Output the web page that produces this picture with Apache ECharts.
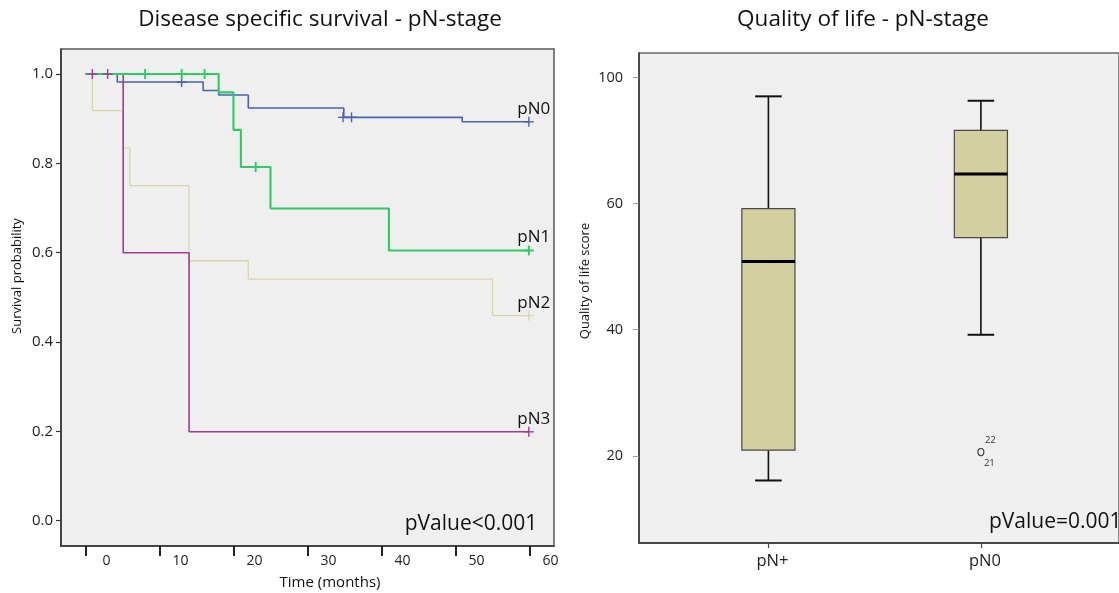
<!DOCTYPE html>
<html><head><meta charset="utf-8">
<script src="https://cdn.jsdelivr.net/npm/echarts@6/dist/echarts.min.js"></script>
<style>html,body{margin:0;padding:0;background:#fff}#c{width:1119px;height:593px}</style>
</head><body><div id="c"></div>
<script>
// ---------- data ----------
const kmTimeTicks = [0, 10, 20, 30, 40, 50, 60];
const kmProbTicks = [0, 0.2, 0.4, 0.6, 0.8, 1.0];
const groupNames = ['pN0', 'pN1', 'pN2', 'pN3'];
// Kaplan-Meier steps: [time (months), survival]
const pN0Curve = [[0, 1.0], [4.3, 0.982], [15.9, 0.963], [18.0, 0.953], [22.0, 0.924], [34.9, 0.903], [50.9, 0.893], [59.9, 0.893]];
const pN1Curve = [[0, 1.0], [18.0, 0.959], [20.0, 0.875], [21.0, 0.792], [25.0, 0.699], [41.0, 0.605], [59.9, 0.605]];
const pN2Curve = [[0, 1.0], [0.94, 0.918], [5.1, 0.834], [6.0, 0.750], [14.0, 0.582], [22.0, 0.541], [55.0, 0.459], [59.9, 0.459]];
const pN3Curve = [[0, 1.0], [5.1, 0.600], [14.0, 0.199], [59.9, 0.199]];
// censored observations
const pN0Censor = [[13.0, 0.982], [34.8, 0.903], [35.95, 0.903], [59.9, 0.893]];
const pN1Censor = [[8.06, 1.0], [13.0, 1.0], [16.1, 1.0], [23.0, 0.792], [59.9, 0.605]];
const pN2Censor = [[59.9, 0.459]];
const pN3Censor = [[0.94, 1.0], [3.0, 1.0], [59.9, 0.199]];
const kmPValue = 'pValue<0.001';

const qolCategories = ['pN+', 'pN0'];
const qolMin = [16.1, 39.2];
const qolQ1 = [20.9, 54.6];
const qolMedian = [50.8, 64.7];
const qolQ3 = [59.2, 71.6];
const qolMax = [77.0, 76.3];
const qolTickValues = [20, 40, 60, 80];
const qolTickLabels = ['20', '40', '60', '100'];
const qolOutlier = [2, 20.6];
const qolOutlierIds = ['22', '21'];
const qolPValue = 'pValue=0.001';

// ---------- styling ----------
const FONT = "'Open Sans', 'Noto Sans', sans-serif";
const colors = { pN0: '#4a62b4', pN1: '#2ecb62', pN2: '#d9d5a6', pN3: '#a3399c' };
const widths = { pN0: 1.6, pN1: 2.1, pN2: 1.3, pN3: 1.6 };

const curves = { pN0: pN0Curve, pN1: pN1Curve, pN2: pN2Curve, pN3: pN3Curve };
const censors = { pN0: pN0Censor, pN1: pN1Censor, pN2: pN2Censor, pN3: pN3Censor };

const chart = echarts.init(document.getElementById('c'), null, { renderer: 'canvas' });

const series = [];
const drawOrder = ['pN2', 'pN3', 'pN0', 'pN1'];
drawOrder.forEach(g => {
  series.push({
    type: 'line', name: g, xAxisIndex: 0, yAxisIndex: 0,
    data: curves[g], step: 'end', showSymbol: false, symbol: 'none',
    lineStyle: { color: colors[g], width: widths[g] }, silent: true, z: 3
  });
});
drawOrder.forEach(g => {
  series.push({
    type: 'custom', name: g + ' censored', xAxisIndex: 0, yAxisIndex: 0,
    data: censors[g], z: 4, silent: true,
    encode: { x: 0, y: 1 },
    renderItem: (params, api) => {
      const p = api.coord([api.value(0), api.value(1)]);
      const st = { stroke: colors[g], lineWidth: Math.max(1.2, widths[g] - 0.2) };
      return { type: 'group', children: [
        { type: 'line', shape: { x1: p[0], y1: p[1] - 5, x2: p[0], y2: p[1] + 5 }, style: st },
        { type: 'line', shape: { x1: p[0] - 5, y1: p[1], x2: p[0] + 5, y2: p[1] }, style: st }
      ]};
    }
  });
});
// end labels of curves
const endPoints = groupNames.map(g => curves[g][curves[g].length - 1]);
series.push({
  type: 'custom', name: 'curve labels', xAxisIndex: 0, yAxisIndex: 0, data: endPoints, z: 5, silent: true,
  encode: { x: 0, y: 1 },
  renderItem: (params, api) => {
    const p = api.coord([api.value(0), api.value(1)]);
    return { type: 'text', x: p[0] + 5, y: p[1] - 13,
      style: { text: groupNames[params.dataIndex], fontFamily: FONT, fontSize: 17, fill: '#111', align: 'center', verticalAlign: 'middle' } };
  }
});

// boxplot
const boxData = qolCategories.map((c, i) => [i + 1, qolMin[i], qolQ1[i], qolMedian[i], qolQ3[i], qolMax[i]]);
series.push({
  type: 'custom', name: 'QoL', xAxisIndex: 1, yAxisIndex: 1, data: boxData, z: 3, silent: true,
  encode: { x: 0, y: [1, 2, 3, 4, 5] },
  renderItem: (params, api) => {
    const x = api.value(0);
    const pMin = api.coord([x, api.value(1)]);
    const pQ1 = api.coord([x, api.value(2)]);
    const pMed = api.coord([x, api.value(3)]);
    const pQ3 = api.coord([x, api.value(4)]);
    const pMax = api.coord([x, api.value(5)]);
    const half = api.size([0.25, 0])[0] / 2;
    const cap = api.size([0.125, 0])[0] / 2;
    const cx = pMed[0];
    const ws = { stroke: '#111', lineWidth: 1.6 };
    return { type: 'group', children: [
      { type: 'line', shape: { x1: cx, y1: pMax[1], x2: cx, y2: pQ3[1] }, style: ws },
      { type: 'line', shape: { x1: cx, y1: pQ1[1], x2: cx, y2: pMin[1] }, style: ws },
      { type: 'line', shape: { x1: cx - cap, y1: pMax[1], x2: cx + cap, y2: pMax[1] }, style: { stroke: '#111', lineWidth: 2 } },
      { type: 'line', shape: { x1: cx - cap, y1: pMin[1], x2: cx + cap, y2: pMin[1] }, style: { stroke: '#111', lineWidth: 2 } },
      { type: 'rect', shape: { x: cx - half, y: pQ3[1], width: 2 * half, height: pQ1[1] - pQ3[1] },
        style: { fill: '#d3cf9f', stroke: '#4a4a4a', lineWidth: 1.2 } },
      { type: 'line', shape: { x1: cx - half, y1: pMed[1], x2: cx + half, y2: pMed[1] }, style: { stroke: '#000', lineWidth: 3 } }
    ]};
  }
});
// outlier
series.push({
  type: 'custom', name: 'outlier', xAxisIndex: 1, yAxisIndex: 1, data: [qolOutlier], z: 4, silent: true,
  encode: { x: 0, y: 1 },
  renderItem: (params, api) => {
    const p = api.coord([api.value(0), api.value(1)]);
    return { type: 'group', children: [
      { type: 'ellipse', shape: { cx: p[0], cy: p[1], rx: 3, ry: 3.6 }, style: { fill: 'none', stroke: '#333', lineWidth: 1.1 } },
      { type: 'text', x: p[0] + 4, y: p[1] - 12, style: { text: qolOutlierIds[0], fontFamily: FONT, fontSize: 9.5, fill: '#333', align: 'left', verticalAlign: 'middle' } },
      { type: 'text', x: p[0] + 3, y: p[1] + 11, style: { text: qolOutlierIds[1], fontFamily: FONT, fontSize: 9.5, fill: '#333', align: 'left', verticalAlign: 'middle' } }
    ]};
  }
});

const txt = (text, x, y, size, extra) => Object.assign({
  type: 'text', x: x, y: y, silent: true, z: 10,
  style: Object.assign({ text: text, fontFamily: FONT, fontSize: size, fill: '#111', align: 'center', verticalAlign: 'middle' }, (extra && extra.style) || {})
}, extra && extra.rotation !== undefined ? { rotation: extra.rotation } : {});

const option = {
  backgroundColor: '#ffffff',
  animation: false,
  textStyle: { fontFamily: FONT },
  grid: [
    { left: 61, top: 49, width: 493, height: 497, show: true, backgroundColor: '#efefef', borderColor: '#5a5a5a', borderWidth: 1.5 },
    { left: 639, top: 53, right: -12, bottom: 50, show: true, backgroundColor: '#efefef', borderColor: '#6a6a6a', borderWidth: 1.5 }
  ],
  xAxis: [
    { type: 'value', gridIndex: 0, min: -3.3, max: 63.3,
      axisLine: { show: true, onZero: false, lineStyle: { color: '#333', width: 1.5 } },
      axisTick: { show: true, customValues: kmTimeTicks, length: 10, lineStyle: { color: '#222', width: 2 } },
      axisLabel: { customValues: kmTimeTicks, margin: 8, padding: [0, 0, 0, 42], fontSize: 14, color: '#222', fontFamily: FONT },
      splitLine: { show: false } },
    { type: 'value', gridIndex: 1, min: 0.391, max: 2.65,
      axisLine: { show: true, onZero: false, lineStyle: { color: '#333', width: 1.5 } },
      axisTick: { show: true, customValues: [1, 2], length: 5, lineStyle: { color: '#444', width: 1.2 } },
      axisLabel: { customValues: [1, 2], margin: 10, padding: [0, 0, 0, 8], fontSize: 16.5, color: '#222', fontFamily: FONT,
        formatter: v => qolCategories[Math.round(v) - 1] || '' },
      splitLine: { show: false } }
  ],
  yAxis: [
    { type: 'value', gridIndex: 0, min: -0.0566, max: 1.056,
      axisLine: { show: true, onZero: false, lineStyle: { color: '#333', width: 1.5 } },
      axisTick: { show: true, customValues: kmProbTicks, length: 5, lineStyle: { color: '#333', width: 1.2 } },
      axisLabel: { customValues: kmProbTicks, margin: 8, fontSize: 15, color: '#222', fontFamily: FONT,
        formatter: v => v.toFixed(1) },
      splitLine: { show: false } },
    { type: 'value', gridIndex: 1, min: 6.19, max: 83.87,
      axisLine: { show: true, onZero: false, lineStyle: { color: '#333', width: 1.5 } },
      axisTick: { show: true, customValues: qolTickValues, length: 6, lineStyle: { color: '#999', width: 1 } },
      axisLabel: { customValues: qolTickValues, margin: 16, fontSize: 14.5, color: '#222', fontFamily: FONT,
        formatter: v => qolTickLabels[qolTickValues.indexOf(Math.round(v))] || '' },
      splitLine: { show: false } }
  ],
  graphic: [
    txt('Disease specific survival - pN-stage', 320, 20, 22.5),
    txt('Quality of life - pN-stage', 863, 20, 22.5),
    txt('Time (months)', 330, 583, 15),
    txt('Survival probability', 17, 276, 13, { rotation: Math.PI / 2 }),
    txt('Quality of life score', 585, 281, 13, { rotation: Math.PI / 2 }),
    txt(kmPValue, 471, 524, 21),
    txt(qolPValue, 989, 522, 21, { style: { align: 'left' } })
  ],
  series: series
};
chart.setOption(option);
</script>
</body></html>
